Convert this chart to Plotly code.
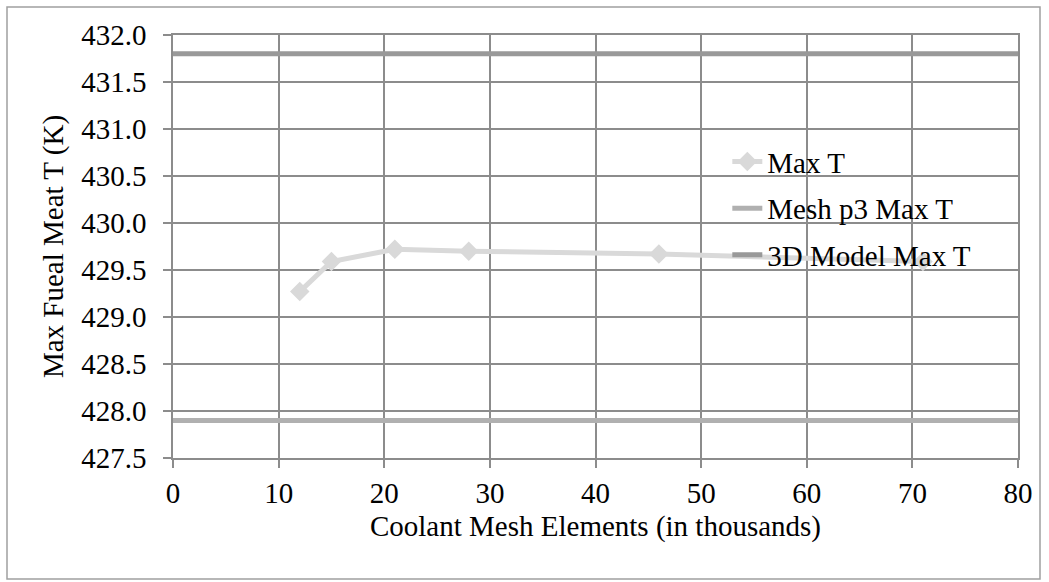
import plotly.graph_objects as go

mesh_elements = [12, 15, 21, 28, 46, 71]
max_t = [429.27, 429.59, 429.72, 429.70, 429.67, 429.59]
mesh_p3_max_t = 427.9
model_3d_max_t = 431.8
x_range = [0, 80]
y_range = [427.5, 432.0]

FONT = "Liberation Serif, Times New Roman, serif"
GRID = "#8c8c8c"
FS = 29

fig = go.Figure()
fig.add_trace(go.Scatter(
    x=mesh_elements, y=max_t, mode="lines+markers", name="Max T",
    line=dict(color="#d9d9d9", width=5),
    marker=dict(symbol="diamond", size=15, color="#d9d9d9"),
    legendgroup="a",
))
fig.add_trace(go.Scatter(
    x=x_range, y=[mesh_p3_max_t, mesh_p3_max_t], mode="lines", name="Mesh p3 Max T",
    line=dict(color="#b0b0b0", width=5), legendgroup="b",
))
fig.add_trace(go.Scatter(
    x=x_range, y=[model_3d_max_t, model_3d_max_t], mode="lines", name="3D Model Max T",
    line=dict(color="#999999", width=5), legendgroup="c",
))

fig.update_layout(
    width=1049, height=582,
    margin=dict(l=173, r=31, t=35, b=124),
    paper_bgcolor="white", plot_bgcolor="white",
    font=dict(family=FONT, size=FS, color="black"),
    legend=dict(x=0.656, y=0.761, xanchor="left", yanchor="top",
                bgcolor="rgba(0,0,0,0)", tracegroupgap=6,
                traceorder="grouped", font=dict(size=FS)),
    xaxis=dict(
        range=x_range, dtick=10, tick0=0, showgrid=True, gridcolor=GRID, gridwidth=1.5,
        zeroline=False, showline=True, linecolor=GRID, linewidth=1.5, mirror=True,
        ticks="outside", ticklen=8, tickcolor=GRID, tickwidth=1.5, automargin=False,
        tickfont=dict(size=FS),
        title=dict(text="Coolant Mesh Elements (in thousands)", standoff=8,
                   font=dict(size=FS)),
    ),
    yaxis=dict(
        range=y_range, dtick=0.5, tick0=427.5, tickformat=".1f", showgrid=True,
        gridcolor=GRID, gridwidth=1.5, zeroline=False, showline=True, linecolor=GRID,
        linewidth=1.5, mirror=True, ticks="outside", ticklen=8, tickcolor=GRID, tickwidth=1.5,
        automargin=False, tickfont=dict(size=FS), ticklabelstandoff=11,
        title=dict(text="Max Fueal Meat T (K)", standoff=9, font=dict(size=FS)),
    ),
    shapes=[dict(type="rect", xref="paper", yref="paper",
                 x0=(7 - 173) / 845, x1=(1040 - 173) / 845,
                 y0=(458 - 579) / 423, y1=(458 - 7) / 423,
                 line=dict(color="#a0a0a0", width=1.5), layer="below")],
)

fig.write_html("out.html", config={"displayModeBar": False},
               post_script="document.body.style.margin='0';")
